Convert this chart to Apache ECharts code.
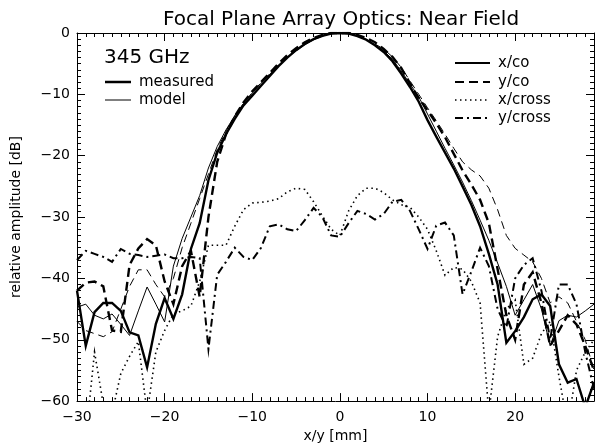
<!DOCTYPE html>
<html><head><meta charset="utf-8">
<script src="https://cdn.jsdelivr.net/npm/echarts@6/dist/echarts.min.js"></script>
<style>html,body{margin:0;padding:0;background:#fff}#c{width:602px;height:448px}</style>
</head><body><div id="c"></div>
<script>
// x positions [mm]
const xPos = [-30,-29,-28,-27,-26,-25,-24,-23,-22,-21,-20,-19,-18,-17,-16,-15,-14,-13,-12,-11,-10,-9,-8,-7,-6,-5,-4,-3,-2,-1,0,1,2,3,4,5,6,7,8,9,10,11,12,13,14,15,16,17,18,19,20,21,22,23,24,25,26,27,28,29];
// x/co measured (thick solid)
const xcoMeasured = [-42,-51,-45.5,-44,-44,-45.3,-48.8,-49.3,-54.5,-47.4,-43.2,-46.6,-42.6,-35.2,-31,-24,-19.5,-16.5,-14,-11.8,-10.2,-8.6,-7,-5.4,-4,-2.8,-1.8,-1,-0.45,-0.1,0,-0.1,-0.5,-1.1,-2,-3.1,-4.6,-6.6,-8.8,-11.2,-14.2,-16.9,-19.5,-22.1,-25,-28,-31.5,-36,-41,-50.5,-48.6,-46.3,-43.4,-42.6,-44.5,-54,-57,-56.4,-61,-57];
// x/co model (thin solid)
const xcoModel = [-44.7,-44.2,-46,-46.6,-45.8,-47.5,-49.3,-45.3,-41.4,-44.2,-47.1,-38,-33.5,-30,-26.5,-22,-18.5,-15.8,-13.5,-11.5,-9.8,-8.2,-6.7,-5.3,-4,-2.9,-1.9,-1.1,-0.5,-0.1,0,-0.1,-0.5,-1.1,-1.9,-2.9,-4.3,-6.2,-8.3,-10.4,-13.2,-16,-18.8,-21.5,-24.3,-27.3,-30.5,-33.8,-37.5,-41.3,-46,-43.5,-41,-45,-51,-46.9,-46,-46.3,-45.3,-44.2];
// y/co measured (thick dashed)
const ycoMeasured = [-42,-40.7,-40.5,-41.3,-48.5,-48.7,-37.8,-35.1,-33.6,-34.6,-40.5,-44.2,-38,-35.5,-43,-30,-21,-16.5,-13.6,-11.3,-9.5,-8,-6.5,-5,-3.6,-2.5,-1.5,-0.8,-0.3,0,0,0,-0.3,-0.8,-1.5,-2.6,-3.9,-5.7,-8.2,-10.6,-12.6,-14.7,-17,-19.7,-22.4,-24.7,-27.2,-31,-38.5,-46,-50,-41,-39,-44,-51,-48.5,-46,-47.5,-51,-55];
// y/co model (thin dashed)
const ycoModel = [-47,-48.5,-49,-49.5,-48.7,-45,-41.3,-38.6,-38.6,-41,-43,-40,-35,-31,-27,-23,-19,-16,-13.5,-11.5,-9.7,-8.1,-6.6,-5.2,-3.9,-2.8,-1.8,-1,-0.4,-0.1,0,-0.1,-0.4,-1,-1.8,-2.6,-3.9,-5.6,-7.8,-10,-12.2,-14.3,-16.5,-18.8,-21,-22.3,-23.3,-25.3,-28.8,-33,-35.1,-36.2,-37.3,-40,-44,-43,-44,-47,-50,-55];
// x/cross measured (dotted)
const xcrMeasured = [-66,-66,-52,-60.5,-62,-55.5,-52.7,-50.3,-62,-52,-48.5,-45.8,-45.3,-44.5,-40.5,-34.6,-34.6,-34.6,-31.5,-28.8,-27.7,-27.6,-27.4,-27,-25.9,-25.3,-25.5,-27.5,-29.8,-32,-33,-29,-26.5,-25.3,-25.3,-26,-27.2,-28,-28.4,-30,-32,-35.5,-39.5,-38.2,-38.5,-40.5,-44,-62,-49.5,-45,-43.5,-54,-53,-49,-47,-56,-64,-55,-52,-50];
// y/cross measured (dash-dot)
const ycrMeasured = [-37,-35.5,-36,-36.5,-37.3,-35.2,-36,-36.2,-36.5,-36.3,-36.1,-36.7,-36.7,-36.5,-36.7,-51.5,-39.4,-37.3,-35,-36.5,-37,-35,-31.5,-31.2,-32,-32.3,-30.5,-28.5,-30,-33,-33.2,-31,-29,-29.5,-30.4,-29.5,-27.5,-27.2,-29,-32,-35.2,-31.4,-30.9,-33,-42.6,-38.9,-35,-38,-45,-48,-40,-37.8,-36.7,-42,-50,-41,-41,-44.2,-52,-58];

const yTicks = [-60,-50,-40,-30,-20,-10,0];
const xTicks = [-30,-20,-10,0,10,20];

const FONT = 'DejaVu Sans';
const pair = arr => xPos.map((x, i) => [x, arr[i]]);
const minus = v => String(v).replace('-', '\u2212');

function mkX(pos, show) {
  return {
    type: 'value', min: -30, max: 29, interval: 10, position: pos,
    axisLine: { show: true, onZero: false, lineStyle: { color: '#000', width: 1 } },
    axisTick: { show: true, inside: true, length: 8, lineStyle: { color: '#000', width: 1 } },
    minorTick: { show: true, splitNumber: 10, length: 4, lineStyle: { color: '#000', width: 1 } },
    splitLine: { show: false },
    axisLabel: { show: show, color: '#000', fontFamily: FONT, fontSize: 14, margin: 9,
      formatter: v => xTicks.includes(v) ? minus(v) : '' },
    name: show ? 'x/y [mm]' : '', nameLocation: 'middle', nameGap: 22,
    nameTextStyle: { color: '#000', fontFamily: FONT, fontSize: 14 }
  };
}
function mkY(pos, show) {
  return {
    type: 'value', min: -60, max: 0, interval: 10, position: pos,
    axisLine: { show: true, onZero: false, lineStyle: { color: '#000', width: 1 } },
    axisTick: { show: true, inside: true, length: 8, lineStyle: { color: '#000', width: 1 } },
    minorTick: { show: true, splitNumber: 10, length: 4, lineStyle: { color: '#000', width: 1 } },
    splitLine: { show: false },
    axisLabel: { show: show, color: '#000', fontFamily: FONT, fontSize: 14, margin: 7,
      formatter: v => yTicks.includes(v) ? minus(v) : '' },
    name: show ? 'relative amplitude [dB]' : '', nameLocation: 'middle', nameGap: 54, nameRotate: 90,
    nameTextStyle: { color: '#000', fontFamily: FONT, fontSize: 14 }
  };
}
function ser(name, arr, width, type) {
  return { name, type: 'line', data: pair(arr), symbol: 'none', clip: true, silent: true,
    lineStyle: { color: '#000', width: width, type: type, cap: 'butt', join: 'miter' }, z: 3 };
}

const chart = echarts.init(document.getElementById('c'), null, { renderer: 'canvas' });
const legendLines = [];
function hline(x1, x2, y, w, dash) {
  legendLines.push({ type: 'line', shape: { x1, y1: y, x2, y2: y },
    style: { stroke: '#000', lineWidth: w, lineDash: dash || null } });
}
function label(text, x, y, size) {
  legendLines.push({ type: 'text', x: x, y: y,
    style: { text, fill: '#000', font: `${size}px "${FONT}"`, textVerticalAlign: 'middle', textAlign: 'left' } });
}
label('345 GHz', 104, 58, 20);
hline(105, 131, 82, 2.5); label('measured', 139, 82, 15);
hline(105, 131, 100, 1); label('model', 139, 100, 15);
hline(455, 490, 63, 2); label('x/co', 498, 63, 15);
hline(455, 490, 82, 2, [9, 5]); label('y/co', 498, 82, 15);
hline(455, 490, 100, 1.5, [1.5, 3.5]); label('x/cross', 498, 100, 15);
hline(455, 490, 118, 2, [8, 4, 2, 4]); label('y/cross', 498, 118, 15);

chart.setOption({
  animation: false,
  backgroundColor: '#fff',
  title: { text: 'Focal Plane Array Optics: Near Field', left: 336, textAlign: 'center', top: 5,
    textStyle: { color: '#000', fontFamily: FONT, fontSize: 20, fontWeight: 'normal' } },
  grid: { left: 77, right: 8, top: 33, bottom: 39, containLabel: false },
  xAxis: [mkX('bottom', true), mkX('top', false)],
  yAxis: [mkY('left', true), mkY('right', false)],
  series: [
    ser('x/co measured', xcoMeasured, 2.4, 'solid'),
    ser('x/co model', xcoModel, 1, 'solid'),
    ser('y/co measured', ycoMeasured, 2.4, [9, 5]),
    ser('y/co model', ycoModel, 1, [8, 5]),
    ser('x/cross', xcrMeasured, 1.6, [1.5, 3.5]),
    ser('y/cross', ycrMeasured, 2, [8, 4, 2, 4])
  ],
  graphic: legendLines
});
</script></body></html>
